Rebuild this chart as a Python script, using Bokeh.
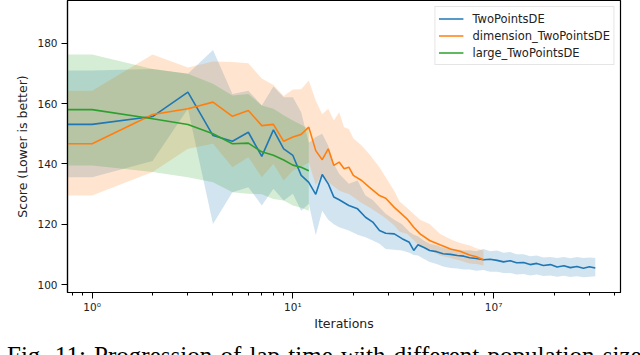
import numpy as np
from bokeh.plotting import figure
from bokeh.layouts import column
from bokeh.models import Range1d, FixedTicker, Legend, LegendItem, Div
from bokeh.embed import file_html
from bokeh.resources import INLINE

# ---------------- data ----------------
ITER_BLUE = [0, 1, 2, 3, 4, 5, 6, 7, 8, 9, 10, 11, 12, 13, 14, 15, 16, 17, 19, 21, 23, 25, 27, 29,
             32, 35, 38, 40, 42, 45, 48, 52, 56, 61, 66, 71, 76, 82, 89, 96, 104, 112, 121, 130,
             141, 152, 164, 177, 192, 207, 224, 241, 260, 280, 300, 321]
BLUE_MEAN = [153.1, 153.1, 155.7, 163.8, 149.4, 147.5, 150.5, 142.5, 151.3, 145.0, 142.8, 136.2,
             133.9, 129.9, 136.5, 133.4, 129.0, 128.1, 126.2, 125.1, 122.3, 120.7, 117.9, 117.0,
             116.8, 115.2, 114.0, 111.3, 113.2, 112.3, 111.3, 110.9, 110.2, 110.0, 109.6, 109.4,
             108.9, 108.6, 108.2, 108.4, 108.0, 107.5, 107.9, 107.2, 107.3, 106.6, 107.0, 106.3,
             106.6, 105.8, 106.2, 105.6, 106.0, 105.4, 105.9, 105.5]
BLUE_LOW = [135.6, 135.6, 141.0, 158.3, 120.1, 130.6, 132.3, 126.2, 131.8, 127.9, 130.1, 124.5,
            126.8, 116.3, 124.5, 121.5, 120.0, 119.0, 117.9, 116.5, 115.7, 114.6, 113.5, 111.8,
            111.5, 111.3, 110.5, 109.8, 109.6, 108.5, 107.5, 106.8, 106.0, 105.5, 105.3, 105.0,
            105.0, 104.6, 104.8, 104.2, 104.2, 103.8, 103.8, 103.3, 103.5, 103.0, 103.3, 102.8,
            103.0, 102.6, 102.9, 102.5, 102.7, 102.4, 102.6, 102.7]
BLUE_HIGH = [171.0, 171.0, 171.5, 169.9, 177.8, 163.2, 164.3, 159.4, 165.7, 162.1, 162.1, 157.1,
             147.0, 148.9, 150.0, 146.0, 140.0, 136.7, 133.4, 134.5, 129.5, 128.0, 125.6, 123.5,
             121.5, 120.0, 117.5, 116.5, 116.0, 114.5, 113.5, 113.0, 112.2, 111.8, 111.5, 111.3,
             111.4, 111.0, 111.8, 111.0, 111.3, 110.5, 110.8, 110.0, 110.0, 109.4, 109.6, 109.0,
             109.1, 108.8, 109.1, 108.7, 109.1, 108.8, 109.0, 108.8]

ITER_ORANGE = [0, 1, 2, 3, 4, 5, 6, 7, 8, 9, 10, 11, 12, 13, 14, 15, 16, 17, 18, 19, 20, 22, 24,
               27, 29, 32, 34, 37, 40, 43, 48, 54, 61, 68, 76, 82, 89]
ORANGE_MEAN = [146.7, 146.7, 156.4, 158.3, 160.5, 155.8, 157.7, 152.7, 153.1, 147.5, 148.9, 149.8,
               152.2, 144.4, 141.4, 145.0, 139.5, 140.6, 138.4, 138.9, 136.2, 134.5, 132.3, 129.5,
               128.6, 125.6, 124.0, 121.8, 119.0, 116.8, 114.6, 113.2, 111.8, 111.0, 109.8, 109.2,
               108.2]
ORANGE_LOW = [129.5, 129.5, 137.3, 145.0, 146.7, 138.9, 142.2, 135.6, 140.0, 134.5, 137.8, 139.0,
              140.5, 133.0, 136.7, 134.0, 132.5, 131.2, 130.5, 130.0, 129.0, 127.0, 125.6, 123.4,
              122.0, 119.6, 117.5, 116.8, 114.8, 112.4, 111.5, 109.6, 108.8, 108.0, 107.0, 106.8,
              106.3]
ORANGE_HIGH = [164.3, 164.3, 176.3, 172.0, 174.0, 173.8, 173.4, 168.3, 166.2, 162.5, 164.7, 164.8,
               167.7, 161.0, 156.5, 158.3, 154.4, 157.1, 152.2, 151.6, 148.5, 146.1, 143.3, 138.9,
               135.6, 131.0, 127.5, 125.5, 123.4, 121.5, 120.1, 116.8, 115.0, 113.8, 112.9, 112.0,
               111.3]

ITER_GREEN = [0, 1, 2, 3, 4, 5, 6, 7, 8, 9, 10, 11, 12]
GREEN_MEAN = [158.0, 158.0, 155.0, 153.1, 150.0, 146.7, 146.9, 144.0, 142.9, 141.3, 139.6, 138.9, 137.7]
GREEN_LOW = [139.5, 139.5, 137.3, 135.6, 133.9, 130.6, 130.1, 129.9, 128.4, 127.9, 126.2, 125.5, 124.5]
GREEN_HIGH = [176.3, 176.3, 171.5, 169.9, 166.6, 162.7, 163.2, 159.4, 158.3, 156.1, 154.4, 153.0, 151.6]

SERIES = ["TwoPointsDE", "dimension_TwoPointsDE", "large_TwoPointsDE"]
COLORS = ["#1f77b4", "#ff7f0e", "#2ca02c"]

X_TICKS = [1, 10, 100]
X_TICK_LABELS = ["10⁰", "10¹", "10⁷"]
X_MINOR = [0.8, 0.9, 2, 3, 4, 5, 6, 7, 8, 9, 20, 30, 40, 50, 60, 70, 80, 90, 200, 300, 400]
Y_TICKS = [100, 120, 140, 160, 180]

CAPTION = "Fig. 11: Progression of lap time with different population size"

# iteration 0 cannot be shown on a log axis: clip it far to the left (like matplotlib)
CLIP = 0.01


def xs(it):
    a = np.asarray(it, dtype=float)
    return np.where(a <= 0, CLIP, a)


p = figure(width=640, height=333, x_axis_type="log",
           x_range=Range1d(10 ** -0.1227, 10 ** 2.632), y_range=Range1d(97.35, 194.2),
           output_backend="svg", toolbar_location=None,
           min_border_left=67, min_border_right=20, min_border_top=0, min_border_bottom=41)
p.xgrid.visible = False
p.ygrid.visible = False
p.outline_line_color = "#000000"
p.outline_line_width = 1.2
p.background_fill_color = "white"
p.border_fill_color = "white"

data = [
    (ITER_BLUE, BLUE_MEAN, BLUE_LOW, BLUE_HIGH),
    (ITER_ORANGE, ORANGE_MEAN, ORANGE_LOW, ORANGE_HIGH),
    (ITER_GREEN, GREEN_MEAN, GREEN_LOW, GREEN_HIGH),
]

for (it, m, lo, hi), c in zip(data, COLORS):
    p.varea(x=xs(it), y1=lo, y2=hi, fill_color=c, fill_alpha=0.2)

lines = []
for (it, m, lo, hi), c in zip(data, COLORS):
    r = p.line(x=xs(it), y=m, line_color=c, line_width=1.6)
    lines.append(r)

legend = Legend(items=[LegendItem(label=s, renderers=[r]) for s, r in zip(SERIES, lines)],
                location="top_right", margin=6, padding=3, spacing=0,
                glyph_width=25, glyph_height=17, label_height=17, label_standoff=9,
                label_text_font="DejaVu Sans", label_text_font_size="11.5px",
                label_text_color="#222222",
                border_line_color="#cccccc", border_line_width=1,
                background_fill_color="white", background_fill_alpha=0.8)
p.add_layout(legend)

p.xaxis.ticker = FixedTicker(ticks=X_TICKS, minor_ticks=X_MINOR)
p.xaxis.major_label_overrides = {t: l for t, l in zip(X_TICKS, X_TICK_LABELS)}
p.yaxis.ticker = FixedTicker(ticks=Y_TICKS)

for ax in (p.xaxis, p.yaxis):
    ax.axis_line_color = "#000000"
    ax.axis_line_width = 1.2
    ax.major_tick_line_color = "#000000"
    ax.minor_tick_line_color = "#000000"
    ax.major_tick_in = 0
    ax.major_tick_out = 6
    ax.minor_tick_in = 0
    ax.minor_tick_out = 3
    ax.major_label_text_font = "DejaVu Sans"
    ax.major_label_text_font_size = "10.5px"
    ax.major_label_text_color = "#222222"
    ax.axis_label_text_font = "DejaVu Sans"
    ax.axis_label_text_font_size = "12.5px"
    ax.axis_label_text_font_style = "normal"
    ax.axis_label_text_color = "#222222"
p.yaxis.minor_tick_out = 0
p.xaxis.axis_label = "Iterations"
p.yaxis.axis_label = "Score (Lower is better)"
p.xaxis.major_label_standoff = 2
p.yaxis.major_label_standoff = 4
p.xaxis.axis_label_standoff = 0
p.yaxis.axis_label_standoff = 4

cap = Div(text=CAPTION, width=640, height=22,
          styles={"overflow": "hidden", "white-space": "nowrap", "font-family": "Liberation Serif",
                  "font-size": "25px", "line-height": "35px", "color": "#000000",
                  "word-spacing": "2px", "padding-left": "2px"})

layout = column(p, cap, spacing=0,
                styles={"position": "absolute", "left": "0px", "top": "0px"})

open("out.html", "w").write(file_html(layout, INLINE))
